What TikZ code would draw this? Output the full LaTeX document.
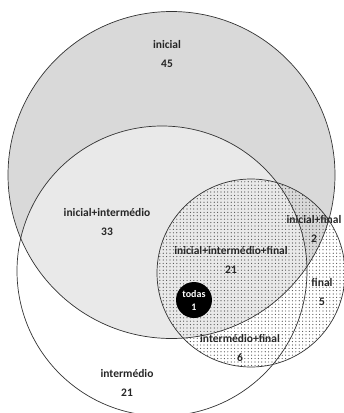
\documentclass[tikz,border=0pt]{standalone}
\usepackage{fontspec}
\setmainfont{Carlito}
\usetikzlibrary{patterns.meta}

\definecolor{inigray}{HTML}{D9D9D9}
\definecolor{bothgray}{HTML}{E9E9E9}
\definecolor{edge}{HTML}{333333}

\begin{document}
\begin{tikzpicture}[x=1pt, y=-1pt,
    lbl/.style={align=center, text=black!85, font=\bfseries\fontsize{11.5}{18.5}\selectfont, inner sep=1pt},
    ring/.style={draw=edge, line width=0.7pt}]
    \useasboundingbox (0,0) rectangle (344,413);

    % the three sets
    \fill[inigray] (171.5,175) circle [radius=163.5];
    \begin{scope}
        \clip (171.5,175) circle [radius=163.5];
        \fill[bothgray] (162,271) circle [radius=145];
    \end{scope}
    \fill[pattern={Dots[distance=3.4pt, radius=0.6pt]}, pattern color=black!70] (251,273) circle [radius=94];
    \draw[ring] (171.5,175) circle [radius=163.5];
    \draw[ring] (162,271) circle [radius=145];
    \draw[ring] (251,273) circle [radius=94];

    % labels
    \node (inicial) [lbl] at (167,54) {inicial\\45};
    \node (iniinter) [lbl] at (107,222) {inicial+intermédio\\33};
    \node (triple) [lbl] at (231,260) {inicial+intermédio+final\\21};
    \node (inifin) [lbl] at (314,229) {inicial+final\\2};
    \node (final) [lbl] at (322,292) {final\\5};
    \node (interfin) [lbl] at (240,348) {intermédio+final\\6};
    \node (inter) [lbl] at (127,383) {intermédio\\21};
    \node (todas) [circle, fill=black, minimum size=36pt, inner sep=0pt, align=center, text=white,
        font=\bfseries\fontsize{10}{13}\selectfont] at (194,300) {todas\\1};
\end{tikzpicture}
\end{document}
